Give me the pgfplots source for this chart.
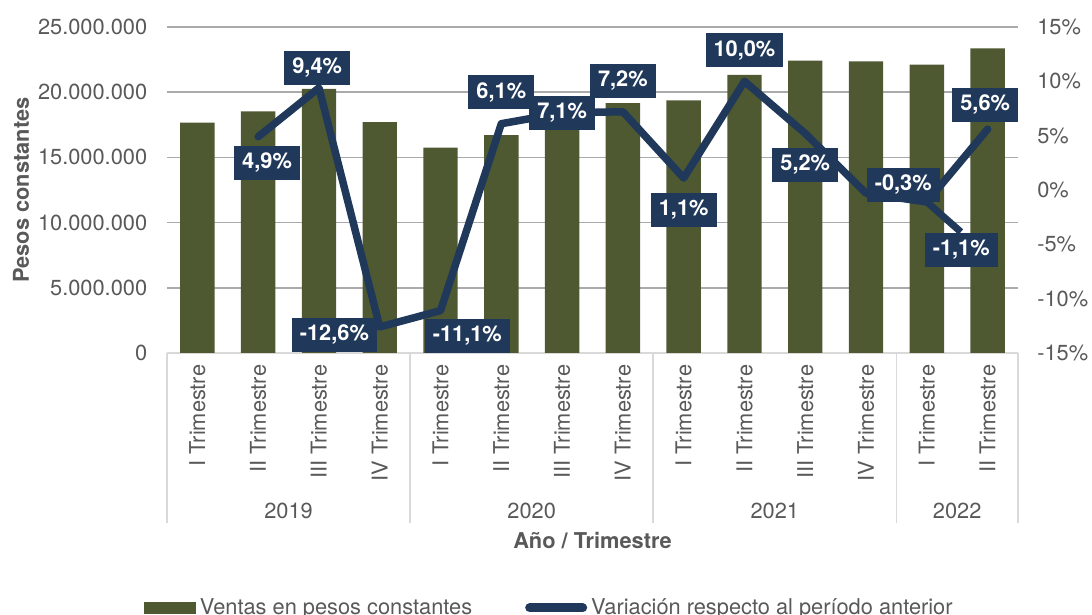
\documentclass[border=0pt]{standalone}
\usepackage{fontspec}
\setmainfont{TeX Gyre Heros}
\usepackage{pgfplots}
\pgfplotsset{compat=1.18}
\definecolor{barc}{RGB}{78,89,50}
\definecolor{navy}{RGB}{32,56,90}
\definecolor{tickc}{RGB}{89,89,89}
\definecolor{gridc}{RGB}{170,170,170}
\definecolor{sepc}{RGB}{217,217,217}
\newcommand\fs{\fontsize{10.9pt}{13pt}\selectfont}
\begin{document}
\begin{tikzpicture}[lbl/.style={fill=navy, text=white, font=\fs\bfseries, inner xsep=4pt, inner ysep=0pt, minimum height=17pt}]
\begin{axis}[
  at={(83.5pt,131pt)}, anchor=south west,
  scale only axis, width=425.5pt, height=163pt,
  xmin=-0.5, xmax=13.5, ymin=0, ymax=25000000,
  axis x line*=bottom, axis y line*=left,
  x axis line style={draw=sepc, line width=0.8pt, -},
  y axis line style={draw=none},
  xtick={0,...,13},
  xticklabels={I Trimestre,II Trimestre,III Trimestre,IV Trimestre,I Trimestre,II Trimestre,III Trimestre,IV Trimestre,I Trimestre,II Trimestre,III Trimestre,IV Trimestre,I Trimestre,II Trimestre},
  xticklabel style={rotate=90, anchor=east, text=tickc, font=\fs},
  xticklabel shift=2.4pt,
  scaled y ticks=false,
  ytick={0,5000000,10000000,15000000,20000000,25000000},
  yticklabels={0,5.000.000,10.000.000,15.000.000,20.000.000,25.000.000},
  yticklabel style={text=tickc, font=\fs},
  yticklabel shift=6.4pt,
  major tick length=0pt,
  ymajorgrids, grid style={gridc, line width=0.8pt},
  ybar, bar width=17.2pt,
  clip=false,
]
\addplot[fill=barc, draw=none] coordinates {
(0,17660000) (1,18520000) (2,20260000) (3,17710000) (4,15740000) (5,16700000) (6,17880000)
(7,19170000) (8,19380000) (9,21320000) (10,22430000) (11,22360000) (12,22120000) (13,23360000)};
\pgfplotsinvokeforeach{-0.5,3.5,7.5,11.5,13.5}{
  \draw[sepc, line width=0.8pt] (axis cs:#1,0) -- ([yshift=-85pt]axis cs:#1,0);
}
\node[text=tickc, font=\fs] at ([yshift=-79pt]axis cs:1.5,0) {2019};
\node[text=tickc, font=\fs] at ([yshift=-79pt]axis cs:5.5,0) {2020};
\node[text=tickc, font=\fs] at ([yshift=-79pt]axis cs:9.5,0) {2021};
\node[text=tickc, font=\fs] at ([yshift=-79pt]axis cs:12.5,0) {2022};
\node[text=tickc, font=\fs\bfseries] at ([yshift=-94pt]axis cs:6.5,0) {Año / Trimestre};
\node[rotate=90, text=tickc, font=\fs\bfseries] at ([xshift=-73pt]axis description cs:0,0.5) {Pesos constantes};
\end{axis}
\begin{axis}[
  at={(83.5pt,131pt)}, anchor=south west,
  scale only axis, width=425.5pt, height=163pt,
  xmin=-0.5, xmax=13.5, ymin=-15, ymax=15,
  axis x line=none, axis y line*=right,
  y axis line style={draw=none},
  ytick={-15,-10,-5,0,5,10,15},
  yticklabels={-15\%,-10\%,-5\%,0\%,5\%,10\%,15\%},
  yticklabel style={text=tickc, font=\fs},
  yticklabel shift=6.1pt,
  major tick length=0pt,
  clip=false,
  legend columns=2,
  legend style={at={(axis description cs:0.4505,-0.782)}, anchor=center, draw=none, fill=none,
    font=\fs, text=tickc, /tikz/every even column/.append style={column sep=24.5pt}},
  legend cell align=left,
]
\addlegendimage{legend image code/.code={\fill[barc] (0pt,-2.75pt) rectangle (25.5pt,2.75pt);}}
\addlegendentry{Ventas en pesos constantes}
\addplot[navy, line width=3.75pt, line join=round, line cap=round,
  legend image code/.code={\draw[navy, line width=4.5pt, line cap=round] (1.5pt,0pt) -- (28pt,0pt);}]
  coordinates {(1,4.9) (2,9.4) (3,-12.6) (4,-11.1) (5,6.1) (6,7.1) (7,7.2) (8,1.1) (9,10.0) (10,5.2) (11,-0.3) (12,-1.1) (13,5.6)};
\addlegendentry{Variación respecto al período anterior}
\draw[navy, line width=3.5pt] (axis cs:12,-1.1) -- ([xshift=17pt,yshift=-15pt]axis cs:12,-1.1);
\node[lbl, xshift=4.45pt, yshift=-13.1pt] at (axis cs:1,4.9) {4,9\%};
\node[lbl, xshift=-0.9pt, yshift=10pt] at (axis cs:2,9.4) {9,4\%};
\node[lbl, xshift=-22.7pt, yshift=-4pt] at (axis cs:3,-12.6) {-12,6\%};
\node[lbl, xshift=13.4pt, yshift=-12.7pt] at (axis cs:4,-11.1) {-11,1\%};
\node[lbl, xshift=0pt, yshift=15.85pt] at (axis cs:5,6.1) {6,1\%};
\node[lbl] at (axis cs:6,7.1) {7,1\%};
\node[lbl, yshift=15.4pt] at (axis cs:7,7.2) {7,2\%};
\node[lbl, yshift=-16pt] at (axis cs:8,1.1) {1,1\%};
\node[lbl, yshift=15.65pt] at (axis cs:9,10.0) {10,0\%};
\node[lbl, yshift=-15.75pt] at (axis cs:10,5.2) {5,2\%};
\node[lbl, xshift=18.6pt, yshift=4.15pt] at (axis cs:11,-0.3) {-0,3\%};
\node[lbl, xshift=17.2pt, yshift=-24pt] at (axis cs:12,-1.1) {-1,1\%};
\node[lbl, xshift=-1.2pt, yshift=12.2pt] at (axis cs:13,5.6) {5,6\%};
\end{axis}
\pgfresetboundingbox
\useasboundingbox (0,0) rectangle (546pt,307.5pt);
\end{tikzpicture}
\end{document}
